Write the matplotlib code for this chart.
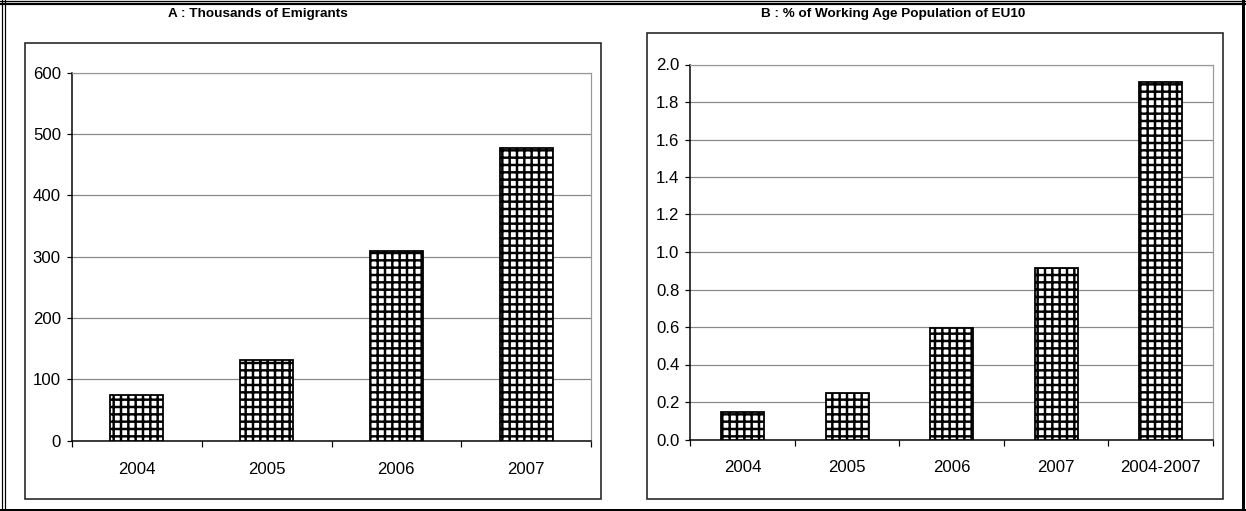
import matplotlib
matplotlib.use("Agg")
import matplotlib.pyplot as plt
from matplotlib.patches import Rectangle
from matplotlib.lines import Line2D
import numpy as np

# data
years_a = ["2004", "2005", "2006", "2007"]
emigrants_k = [75, 131, 310, 478]
cats_b = ["2004", "2005", "2006", "2007", "2004-2007"]
share_pct = [0.145, 0.25, 0.595, 0.915, 1.905]

W, H, DPI = 1246, 511, 88
def pt(px):
    return px * 72.0 / DPI
def fx(x):
    return x / W
def fy(y):
    return 1 - y / H

FONT = ["Liberation Sans Narrow", "Liberation Sans", "DejaVu Sans"]
plt.rcParams["font.family"] = FONT
plt.rcParams["hatch.linewidth"] = 2.0

fig = plt.figure(figsize=(W / DPI, H / DPI), dpi=DPI)

# outer border
for x in (2.2, 4.6):
    fig.add_artist(Line2D([fx(x)] * 2, [fy(0), fy(511)], transform=fig.transFigure, color="black", lw=pt(1.2)))
fig.add_artist(Line2D([fx(0), fx(1246)], [fy(0.8)] * 2, transform=fig.transFigure, color="black", lw=pt(1.3)))
fig.add_artist(Line2D([fx(0), fx(1246)], [fy(4.2)] * 2, transform=fig.transFigure, color="black", lw=pt(2.2)))
fig.add_artist(Line2D([fx(1243)] * 2, [fy(0), fy(511)], transform=fig.transFigure, color="black", lw=pt(3)))
fig.add_artist(Line2D([fx(0), fx(1246)], [fy(509.5)] * 2, transform=fig.transFigure, color="black", lw=pt(2)))

# panel boxes
for (x0, y0, x1, y1) in [(25, 42.7, 601, 499), (647, 33, 1223, 499)]:
    fig.add_artist(Rectangle((fx(x0), fy(y1)), (x1 - x0) / W, (y1 - y0) / H,
                             transform=fig.transFigure, fill=False, ec="#222222", lw=pt(1.6)))

fig.text(fx(258), fy(14), "A : Thousands of Emigrants", ha="center", va="center",
         fontsize=pt(13.5), fontweight="bold")
fig.text(fx(893), fy(14), "B : % of Working Age Population of EU10", ha="center", va="center",
         fontsize=pt(13.5), fontweight="bold")


def style(ax, labels, ymax, step, fmt):
    n = len(labels)
    x = np.arange(n)
    ax.set_xlim(-0.5, n - 0.5)
    ax.set_ylim(0, ymax)
    ax.set_yticks(np.arange(0, ymax + step / 2, step))
    ax.yaxis.set_major_formatter(matplotlib.ticker.FormatStrFormatter(fmt))
    ax.grid(axis="y", color="#888888", lw=pt(1.2))
    ax.set_axisbelow(True)
    ax.set_xticks(np.arange(-0.5, n, 1.0))
    ax.set_xticklabels([])
    ax.set_xticks(x, minor=True)
    ax.set_xticklabels(labels, minor=True)
    ax.tick_params(axis="x", which="major", direction="out", length=pt(5.5), width=pt(1.2))
    ax.tick_params(axis="x", which="minor", length=0, pad=pt(21), labelsize=pt(16.8))
    ax.tick_params(axis="y", direction="out", length=pt(5), width=pt(1.2), pad=pt(6), labelsize=pt(16.8))
    for s in ("left", "bottom"):
        ax.spines[s].set_color("black")
        ax.spines[s].set_linewidth(pt(1.5))
    for s in ("top", "right"):
        ax.spines[s].set_color("#999999")
        ax.spines[s].set_linewidth(pt(1.2))
    return x


axA = fig.add_axes([fx(72), fy(440.7), (591 - 72) / W, (440.7 - 72.7) / H])
xa = style(axA, years_a, 600, 100, "%d")
axA.bar(xa, emigrants_k, width=0.41, color="white", edgecolor="black", hatch="++", lw=pt(1.8), zorder=3)

axB = fig.add_axes([fx(690.3), fy(439.5), (1213 - 690.3) / W, (439.5 - 64.5) / H])
xb = style(axB, cats_b, 2.0, 0.2, "%.1f")
axB.bar(xb, share_pct, width=0.41, color="white", edgecolor="black", hatch="++", lw=pt(1.8), zorder=3)

fig.savefig("out.png", dpi=DPI)
